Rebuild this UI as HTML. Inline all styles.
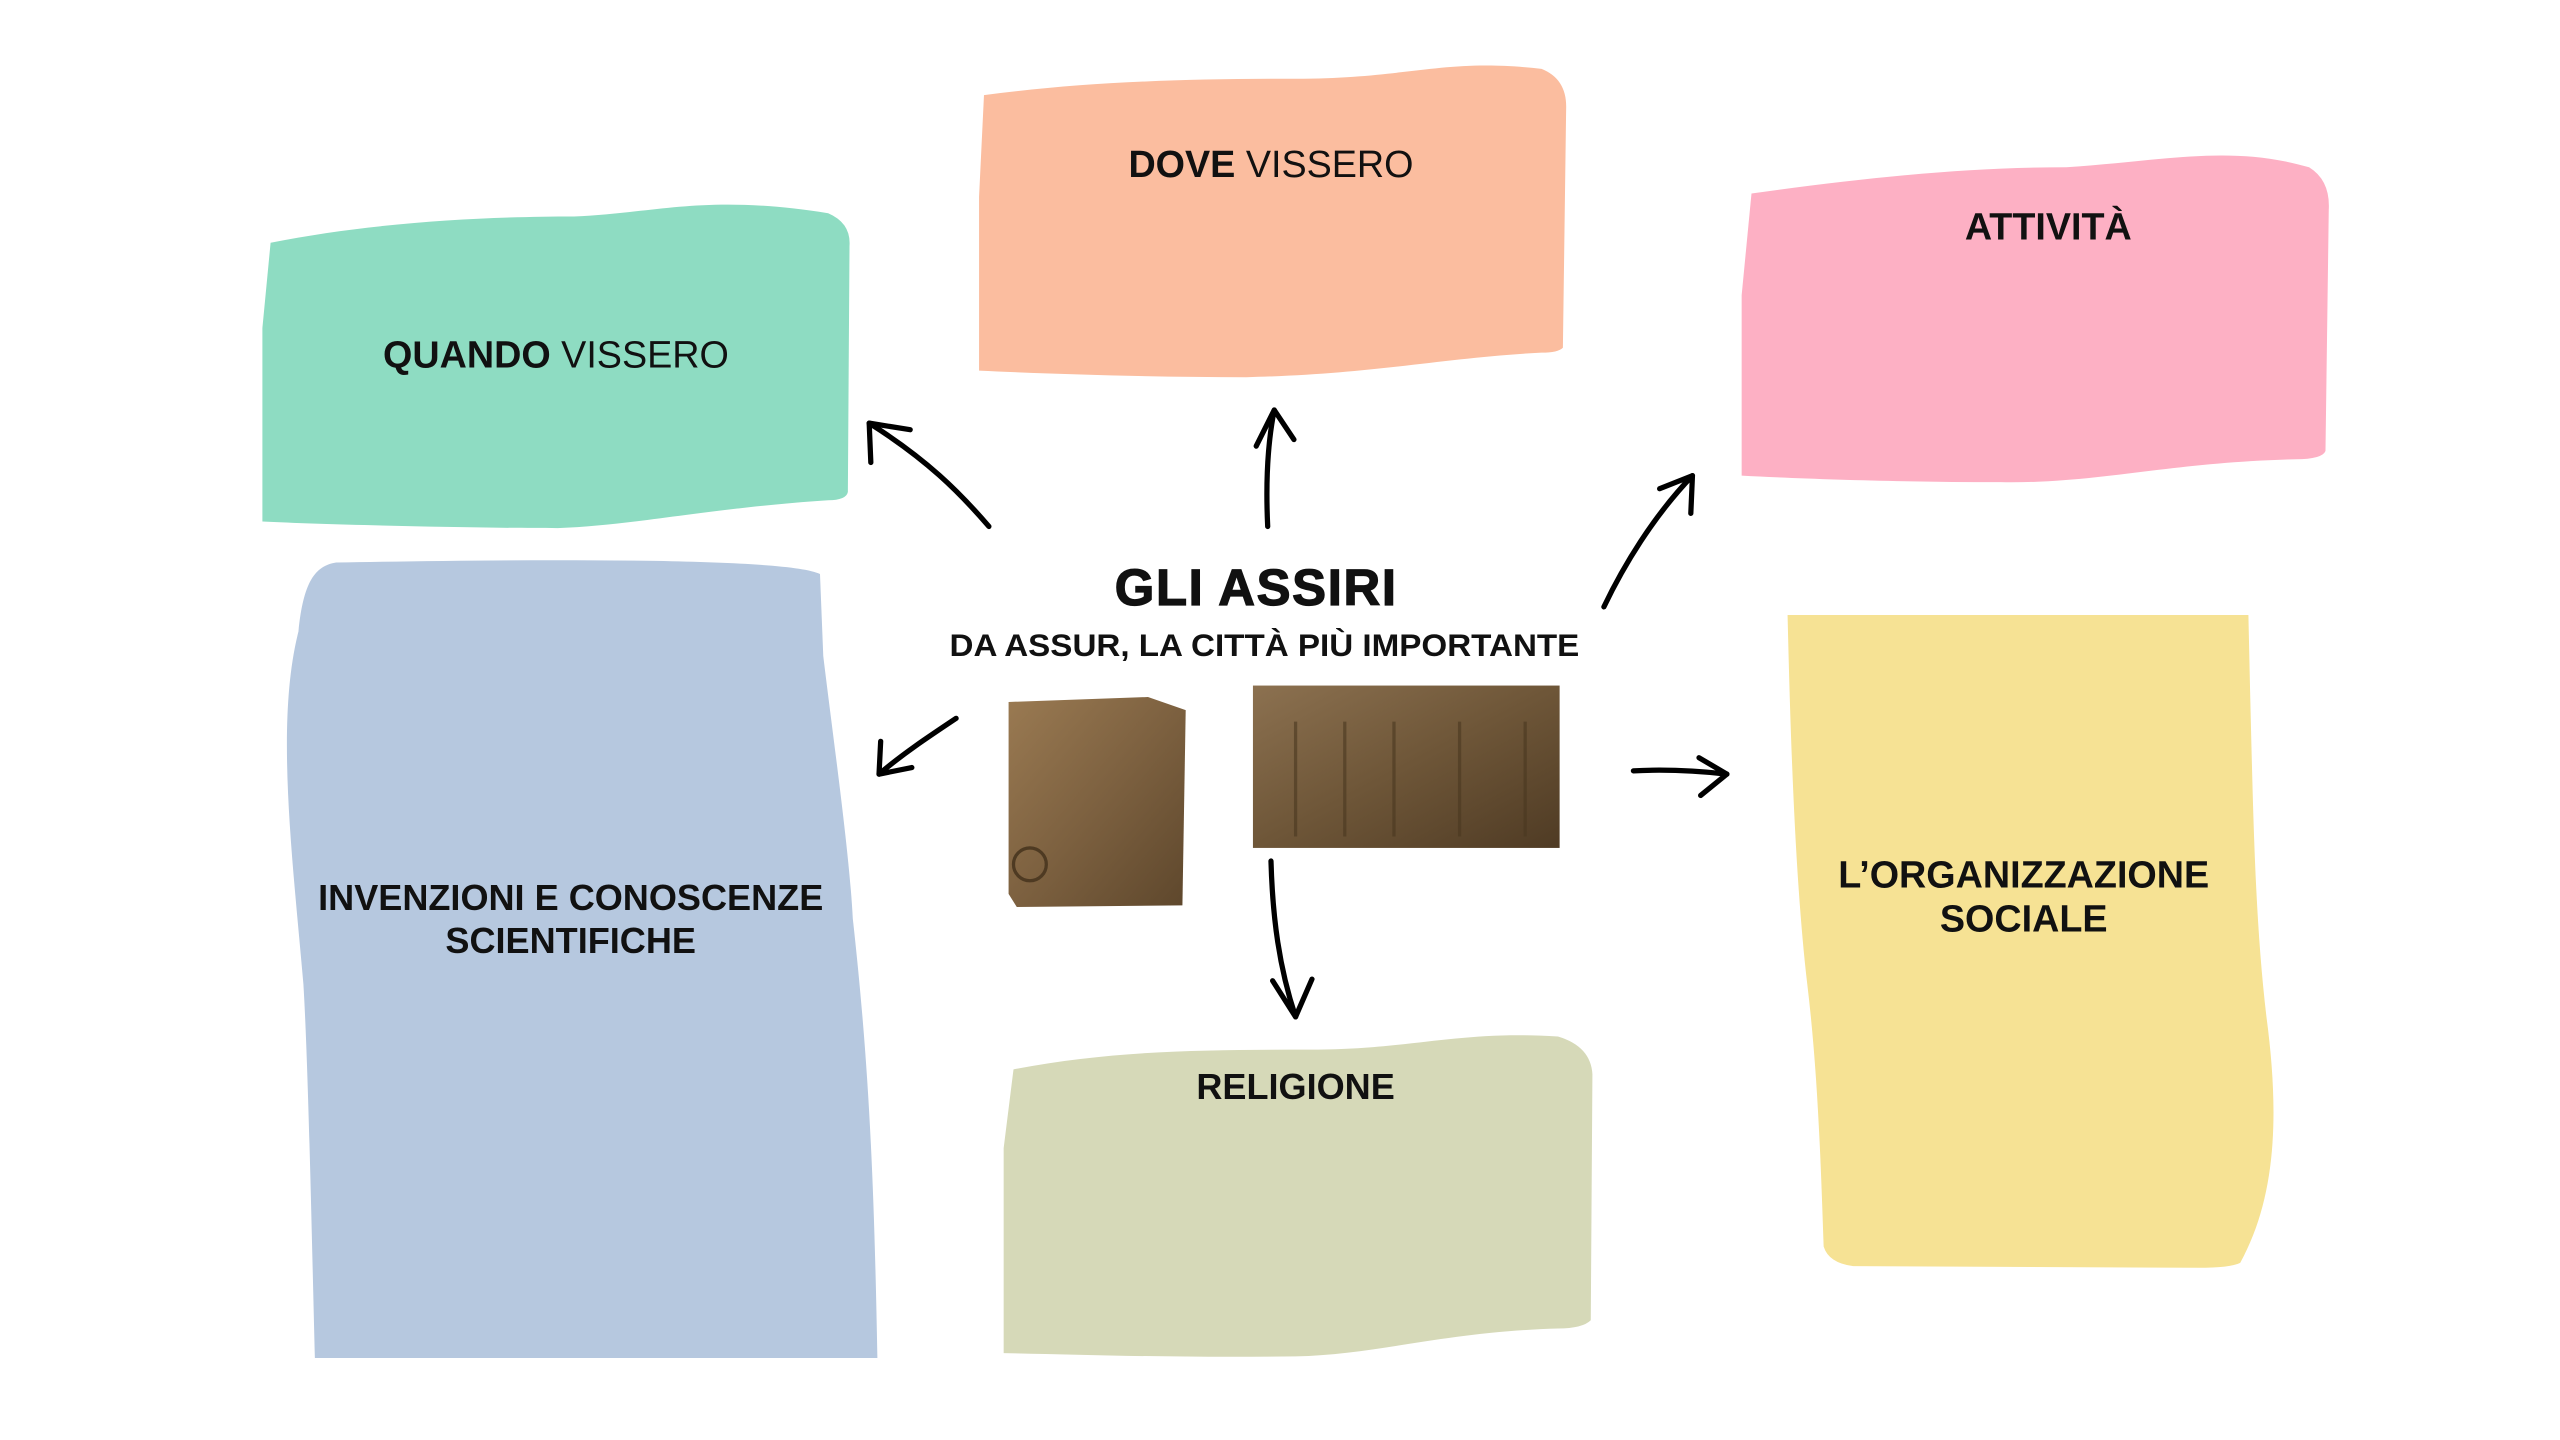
<!DOCTYPE html>
<html><head><meta charset="utf-8"><style>
html,body{margin:0;padding:0;background:#fff;}
svg{display:block;}
text{font-family:"Liberation Sans",sans-serif;fill:#111;}
</style></head><body>
<svg width="2560" height="1440" viewBox="0 0 1561 878" preserveAspectRatio="none" xmlns="http://www.w3.org/2000/svg">
<defs>
<linearGradient id="st1" x1="0" y1="0" x2="1" y2="1"><stop offset="0" stop-color="#9a7a52"/><stop offset="0.5" stop-color="#7d6140"/><stop offset="1" stop-color="#5e472c"/></linearGradient>
<linearGradient id="st2" x1="0" y1="0" x2="1" y2="1"><stop offset="0" stop-color="#8c7150"/><stop offset="0.5" stop-color="#6e5638"/><stop offset="1" stop-color="#4f3b24"/></linearGradient>
</defs>
<path d="M165 148 C230 135 300 132 350 132 C400 130 430 118 505 130 Q519 136 518 150 L517 300 Q516 305 505 305 C430 310 390 320 340 322 C290 322 200 320 160 318 L160 200 Z" fill="#8edcc2"/>
<path d="M600 58 C660 50 720 48 790 48 C860 48 880 35 940 42 Q955 48 955 65 L953 212 Q950 215 940 215 C880 218 840 228 760 230 C700 230 640 228 597 226 L597 120 Z" fill="#fbbd9f"/>
<path d="M1068 118 C1140 108 1200 102 1260 102 C1320 98 1360 88 1408 102 Q1421 110 1420 128 L1418 275 Q1416 280 1400 280 C1320 282 1280 295 1220 294 C1160 294 1100 292 1062 290 L1062 180 Z" fill="#fdb0c4"/>
<path d="M205 343 C260 342 330 341 400 342 C450 343 490 345 500 350 L502 400 C508 450 518 520 520 560 C530 650 533 720 535 828 L192 828 C190 750 188 650 185 600 C178 520 168 440 182 385 C185 355 192 345 205 343 Z" fill="#b6c8df"/>
<path d="M618 652 C680 640 740 640 800 640 C860 640 890 628 950 632 Q970 638 971 655 L970 805 Q965 810 950 810 C880 812 840 826 790 827 C720 828 660 826 612 825 L612 700 Z" fill="#d6d9b8"/>
<path d="M1090 375 L1371 375 L1372 420 C1374 500 1375 560 1382 620 C1390 680 1388 730 1366 770 Q1360 773 1340 773 L1130 772 Q1115 770 1112 760 C1110 700 1108 650 1102 600 C1095 540 1092 460 1090 375 Z" fill="#f6e294"/>

<text x="339" y="224" font-size="23" text-anchor="middle"><tspan font-weight="bold">QUANDO</tspan> VISSERO</text>
<text x="775" y="108" font-size="23" text-anchor="middle"><tspan font-weight="bold">DOVE</tspan> VISSERO</text>
<text x="1249" y="146" font-size="23" text-anchor="middle" font-weight="bold">ATTIVITÀ</text>
<text x="348" y="555" font-size="22" text-anchor="middle" font-weight="bold">INVENZIONI E CONOSCENZE</text>
<text x="348" y="581" font-size="22" text-anchor="middle" font-weight="bold">SCIENTIFICHE</text>
<text x="790" y="670" font-size="22" text-anchor="middle" font-weight="bold">RELIGIONE</text>
<text x="1234" y="541" font-size="23" text-anchor="middle" font-weight="bold">L’ORGANIZZAZIONE</text>
<text x="1234" y="568" font-size="23" text-anchor="middle" font-weight="bold">SOCIALE</text>

<text x="766" y="369" font-size="31" text-anchor="middle" font-weight="bold" letter-spacing="1" stroke="#111" stroke-width="0.8">GLI ASSIRI</text>
<text x="771" y="400" font-size="19" text-anchor="middle" font-weight="bold" textLength="384" lengthAdjust="spacingAndGlyphs">DA ASSUR, LA CITTÀ PIÙ IMPORTANTE</text>

<path d="M615 428 L700 425 L723 433 L721 552 L620 553 L615 545 Z" fill="url(#st1)"/>
<circle cx="628" cy="527" r="10" fill="none" stroke="#4e3a22" stroke-width="2"/>
<rect x="764" y="418" width="187" height="99" fill="url(#st2)"/>
<g stroke="#4a3820" stroke-width="2" opacity="0.6"><line x1="790" y1="440" x2="790" y2="510"/><line x1="820" y1="440" x2="820" y2="510"/><line x1="850" y1="440" x2="850" y2="510"/><line x1="890" y1="440" x2="890" y2="510"/><line x1="930" y1="440" x2="930" y2="510"/></g>

<g fill="none" stroke="#000" stroke-width="3.2" stroke-linecap="round" stroke-linejoin="round">
<path d="M603 321 C585 300 565 280 530 258"/><path d="M531 282 L530 258 L555 262"/>
<path d="M773 321 C772 300 772 275 777 250"/><path d="M766 272 L777 250 L789 268"/>
<path d="M978 370 C990 345 1008 315 1032 290"/><path d="M1012 298 L1032 290 L1031 313"/>
<path d="M583 438 C565 450 550 460 536 472"/><path d="M537 452 L536 472 L556 468"/>
<path d="M996 470 C1015 469 1035 470 1053 472"/><path d="M1036 462 L1053 472 L1037 485"/>
<path d="M775 525 C776 560 780 590 790 620"/><path d="M776 598 L790 620 L800 597"/>
</g>
</svg>
</body></html>
